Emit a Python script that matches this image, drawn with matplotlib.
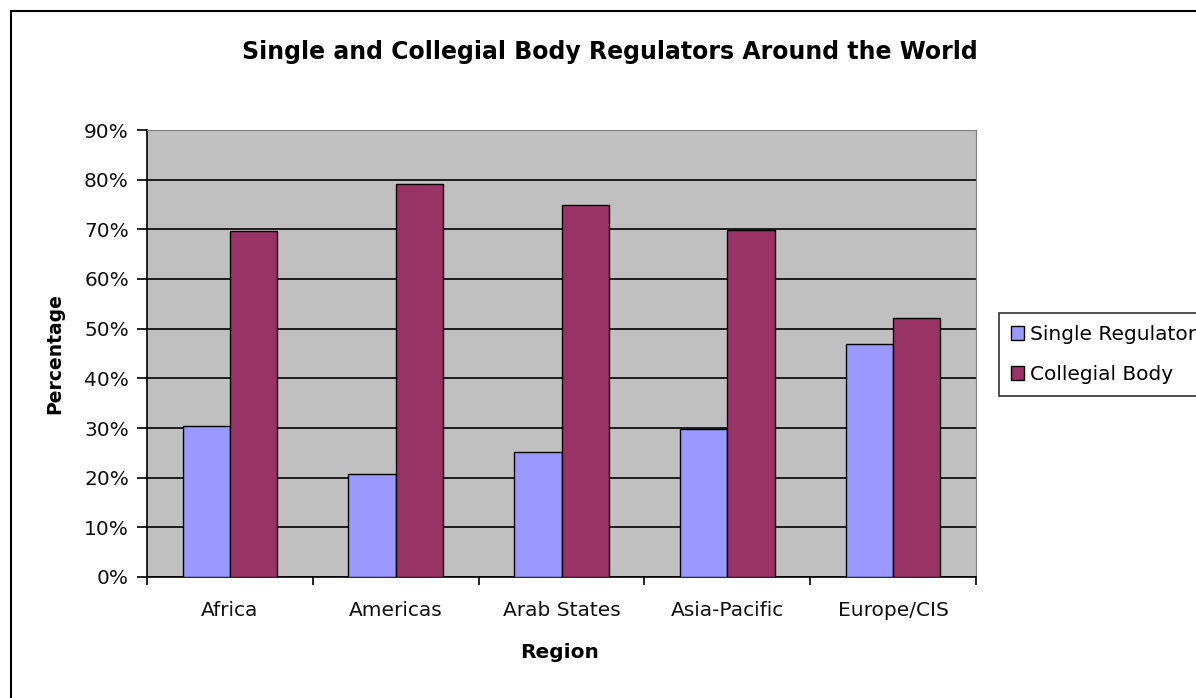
import matplotlib
matplotlib.use("Agg")
import matplotlib.pyplot as plt
import matplotlib.patches as mpatches
import numpy as np
from matplotlib.ticker import PercentFormatter

regions = ["Africa", "Americas", "Arab States", "Asia-Pacific", "Europe/CIS"]
single_regulator = [30.4, 20.8, 25.2, 29.8, 47.0]
collegial_body = [69.6, 79.2, 74.8, 69.8, 52.1]

W, H = 1196, 698
plt.rcParams['font.family'] = ['DejaVu Sans']


def main():
    fig = plt.figure(figsize=(W / 100, H / 100), dpi=100)

    # chart area frame (runs off the right and bottom edges)
    fig.patches.append(mpatches.Rectangle(
        (11 / W, -0.1), 2, (H - 11) / H + 0.1, transform=fig.transFigure,
        facecolor="none", edgecolor="black", linewidth=1.5))

    ax = fig.add_axes([147 / W, (H - 577) / H, 829 / W, 447 / H])
    ax.set_facecolor("#C0C0C0")

    x = np.arange(len(regions))
    width = 1 / 3.5  # gap width 150%
    ax.bar(x - width / 2, single_regulator, width, color="#9999FF",
           edgecolor="black", linewidth=1, label="Single Regulator", zorder=3)
    ax.bar(x + width / 2, collegial_body, width, color="#993366",
           edgecolor="black", linewidth=1, label="Collegial Body", zorder=3)

    ax.set_xlim(-0.5, len(regions) - 0.5)
    ax.set_ylim(0, 90)
    ax.set_yticks(np.arange(0, 91, 10))
    ax.yaxis.set_major_formatter(PercentFormatter(decimals=0))
    ax.grid(axis="y", color="black", linewidth=1.2, zorder=1)
    ax.set_axisbelow(True)

    ax.set_xticks(x)
    ax.set_xticklabels(regions)
    ax.set_xticks(np.arange(-0.5, len(regions)), minor=True)
    ax.tick_params(axis="x", which="major", length=0, pad=17, labelsize=14.5,
                   labelcolor="#111111")
    ax.tick_params(axis="x", which="minor", length=6, width=1.2, direction="out")
    ax.tick_params(axis="y", length=7, width=1.2, direction="out", pad=6,
                   labelsize=14.5, labelcolor="#111111")

    for side in ("top", "right"):
        ax.spines[side].set_color("#808080")
    for side in ("left", "bottom"):
        ax.spines[side].set_color("black")
        ax.spines[side].set_linewidth(1.2)

    ax.set_xlabel("Region", fontsize=14.5, fontweight="bold")
    ax.xaxis.set_label_coords((560 - 147) / 829, -(643 - 577) / 447)
    ax.set_ylabel("Percentage", fontsize=13.5, fontweight="bold")
    ax.yaxis.set_label_coords(-(147 - 64) / 829, 0.5)

    fig.text(610 / W, 1 - 52 / H,
             "Single and Collegial Body Regulators Around the World",
             ha="center", va="center", fontsize=17, fontweight="bold")

    leg = fig.legend(loc="upper left", bbox_to_anchor=(999 / W, 1 - 313 / H),
                     fontsize=14.5, frameon=True, fancybox=False,
                     handlelength=0.65, handleheight=0.65, handletextpad=0.3,
                     borderpad=0.6, labelspacing=1.05, borderaxespad=0)
    leg.get_frame().set_edgecolor("black")
    leg.get_frame().set_linewidth(1.2)

    fig.savefig("out.png", dpi=100)


if __name__ == '__main__':
    main()
